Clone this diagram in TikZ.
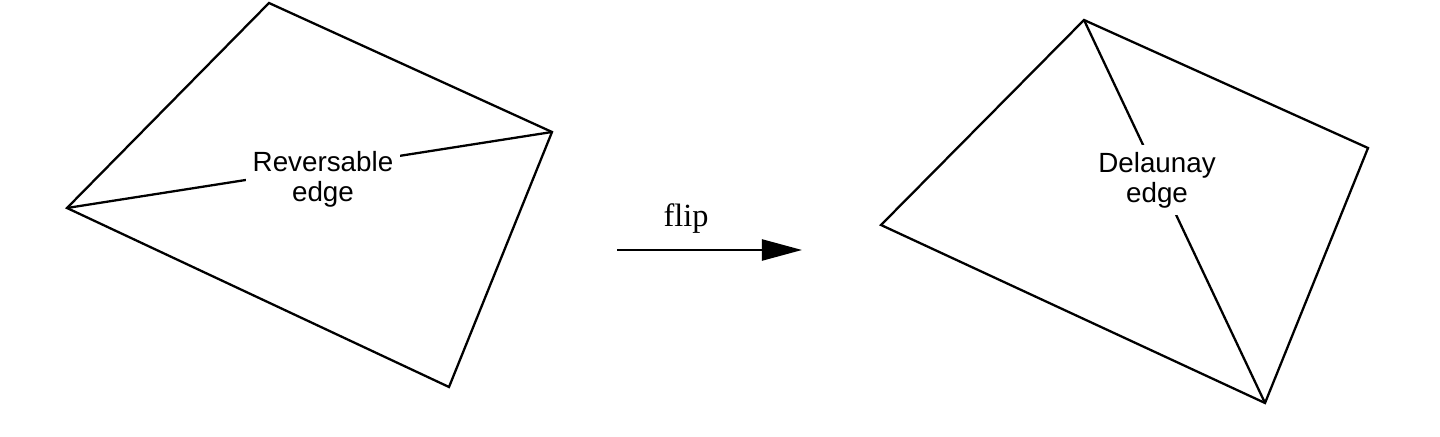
\documentclass[tikz,border=0pt]{standalone}
\usepackage{fontspec}
\setmainfont{Liberation Serif}
\setsansfont{Liberation Sans}
\usetikzlibrary{arrows.meta}

\begin{document}
\begin{tikzpicture}[x=0.01cm, y=-0.01cm, line width=0.65pt, line join=miter]
		\useasboundingbox (0,0) rectangle (1440,437);
		\tikzset{lbl/.style={fill=white, inner xsep=2pt, inner ysep=1pt, align=center, font=\sffamily\fontsize{7.9}{8.5}\selectfont}}
		% before the flip
		\coordinate (A1) at (269,3);
		\coordinate (B1) at (552,132);
		\coordinate (C1) at (449,387);
		\coordinate (D1) at (67,208);
		\draw (D1) -- (A1) -- (B1) -- (C1) -- cycle;
		\draw (D1) -- (B1);
		\node[lbl] (rev) at (323,179) {Reversable\\edge};
		% flip arrow
		\coordinate (F1) at (617,250);
		\coordinate (F2) at (802,250);
		\draw[-{Triangle[length=0.4cm, width=0.21cm]}] (F1) -- (F2);
		\node[anchor=base, font=\fontsize{9.2}{11}\selectfont] (flip) at (686,227) {flip};
		% after the flip
		\coordinate (A2) at (1084,20);
		\coordinate (B2) at (1368,148);
		\coordinate (C2) at (1265,403);
		\coordinate (D2) at (881,225);
		\draw (D2) -- (A2) -- (B2) -- (C2) -- cycle;
		\draw (A2) -- (C2);
		\node[lbl, inner ysep=2pt] (del) at (1157,180) {Delaunay\\edge};
	\end{tikzpicture}
\end{document}
